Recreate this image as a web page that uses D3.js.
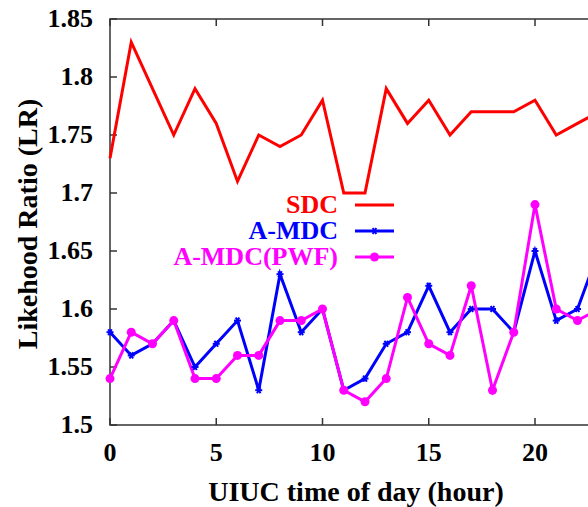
<!DOCTYPE html>
<html><head><meta charset="utf-8"><script src="https://cdn.jsdelivr.net/npm/d3@7"></script></head>
<body style="margin:0"><svg width="588" height="507" font-family="Liberation Serif" font-weight="bold"></svg>
<script>
// Variables
var hours = d3.range(0, 24);
var sdc = [1.73, 1.83, 1.79, 1.75, 1.79, 1.76, 1.71, 1.75, 1.74, 1.75, 1.78, 1.70,
  1.70, 1.79, 1.76, 1.78, 1.75, 1.77, 1.77, 1.77, 1.78, 1.75, 1.76, 1.77];
var amdc = [1.58, 1.56, 1.57, 1.59, 1.55, 1.57, 1.59, 1.53, 1.63, 1.58, 1.60, 1.53,
  1.54, 1.57, 1.58, 1.62, 1.58, 1.60, 1.60, 1.58, 1.65, 1.59, 1.60, 1.65];
var pwf = [1.54, 1.58, 1.57, 1.59, 1.54, 1.54, 1.56, 1.56, 1.59, 1.59, 1.60, 1.53,
  1.52, 1.54, 1.61, 1.57, 1.56, 1.62, 1.53, 1.58, 1.69, 1.60, 1.59, 1.60];
var xTicks = [0, 5, 10, 15, 20];
var yTicks = [1.5, 1.55, 1.6, 1.65, 1.7, 1.75, 1.8, 1.85];
var seriesNames = ['SDC', 'A-MDC', 'A-MDC(PWF)'];
var seriesColors = ['#ff0000', '#0000ff', '#ff00ff'];

var plotLeft = 110, plotTop = 19, plotBottom = 425;
var tickFont = 26, titleFont = 28;

var svg = d3.select('svg').style('display', 'block');

// set the font on each label directly
function label(g, size) {
  return g.append('text')
    .attr('font-family', 'Liberation Serif')
    .attr('font-weight', 'bold')
    .attr('font-size', size)
    .style('font', 'bold ' + size + 'px "Liberation Serif", "Times New Roman", Times, serif');
}

var x = d3.scaleLinear().domain([0, 23]).range([plotLeft, plotLeft + 23 * 21.25]);
var y = d3.scaleLinear().domain([1.5, 1.85]).range([plotBottom, plotTop]);

var axisColor = '#333';

// frame
svg.append('rect')
  .attr('x', x(0)).attr('y', y(1.85))
  .attr('width', x(23) - x(0)).attr('height', y(1.5) - y(1.85))
  .attr('fill', 'none').attr('stroke', axisColor).attr('stroke-width', 1.5);

// ticks (inward)
var tickLen = 7;
xTicks.forEach(function (t) {
  svg.append('line').attr('x1', x(t)).attr('x2', x(t))
    .attr('y1', plotBottom).attr('y2', plotBottom - tickLen)
    .attr('stroke', axisColor).attr('stroke-width', 1.5);
  svg.append('line').attr('x1', x(t)).attr('x2', x(t))
    .attr('y1', plotTop).attr('y2', plotTop + tickLen)
    .attr('stroke', axisColor).attr('stroke-width', 1.5);
  label(svg, tickFont).attr('x', x(t)).attr('y', 461)
    .attr('text-anchor', 'middle')
    .text(t);
});
yTicks.forEach(function (t) {
  svg.append('line').attr('x1', plotLeft).attr('x2', plotLeft + tickLen)
    .attr('y1', y(t)).attr('y2', y(t))
    .attr('stroke', axisColor).attr('stroke-width', 1.5);
  label(svg, tickFont).attr('x', 93).attr('y', y(t) + 8)
    .attr('text-anchor', 'end')
    .text(d3.format('.3~f')(t));
});

// axis titles
label(svg, titleFont)
  .attr('x', 356).attr('y', 501)
  .attr('text-anchor', 'middle')
  .text('UIUC time of day (hour)');
label(svg, titleFont)
  .attr('transform', 'translate(37,224) rotate(-90)')
  .attr('text-anchor', 'middle')
  .text('Likehood Ratio (LR)');

var line = d3.line()
  .x(function (d, i) { return x(hours[i]); })
  .y(function (d) { return y(d); });

var data = [sdc, amdc, pwf];
var plot = svg.append('g');

data.forEach(function (s, k) {
  plot.append('path')
    .datum(s)
    .attr('d', line)
    .attr('fill', 'none')
    .attr('stroke', seriesColors[k])
    .attr('stroke-width', 3)
    .attr('stroke-linejoin', 'miter');
});

// blue asterisk markers
function star(g, cx, cy, r, color) {
  [0, 60, 120].forEach(function (a) {
    var rad = a * Math.PI / 180;
    g.append('line')
      .attr('x1', cx - r * Math.cos(rad)).attr('y1', cy - r * Math.sin(rad))
      .attr('x2', cx + r * Math.cos(rad)).attr('y2', cy + r * Math.sin(rad))
      .attr('stroke', color).attr('stroke-width', 2);
  });
}
amdc.forEach(function (v, i) { star(plot, x(hours[i]), y(v), 3.5, seriesColors[1]); });

plot.selectAll('circle.pwf')
  .data(pwf)
  .enter().append('circle')
  .attr('class', 'pwf')
  .attr('cx', function (d, i) { return x(hours[i]); })
  .attr('cy', function (d) { return y(d); })
  .attr('r', 4.5)
  .attr('fill', seriesColors[2]);

// legend
var legendY = [205, 231, 257];
seriesNames.forEach(function (name, k) {
  label(svg, tickFont)
    .attr('x', 338).attr('y', legendY[k] + 8)
    .attr('text-anchor', 'end')
    .attr('fill', seriesColors[k])
    .text(name);
  svg.append('line')
    .attr('x1', 355).attr('x2', 394)
    .attr('y1', legendY[k]).attr('y2', legendY[k])
    .attr('stroke', seriesColors[k]).attr('stroke-width', 3);
  if (k === 1) star(svg, 374.5, legendY[k], 3.5, seriesColors[k]);
  if (k === 2) svg.append('circle').attr('cx', 374.5).attr('cy', legendY[k])
    .attr('r', 4.5).attr('fill', seriesColors[k]);
});
</script>
</body>
</html>
